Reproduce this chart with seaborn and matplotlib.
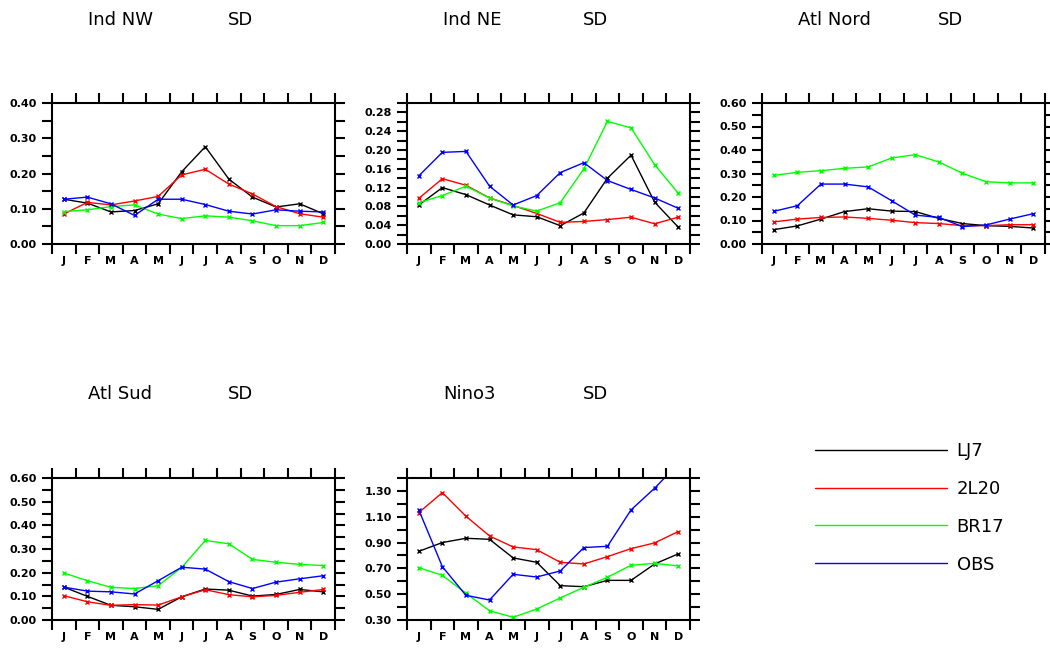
import numpy as np
import pandas as pd
import matplotlib
matplotlib.use('Agg')
import matplotlib.pyplot as plt
import seaborn as sns
from matplotlib.lines import Line2D

months = ['J', 'F', 'M', 'A', 'M', 'J', 'J', 'A', 'S', 'O', 'N', 'D']
series_names = ['LJ7', '2L20', 'BR17', 'OBS']
series_colors = ['#000000', '#ff0000', '#00ff00', '#0000ff']

# Ind NW
nw_lj7 = [0.127, 0.116, 0.091, 0.095, 0.114, 0.205, 0.276, 0.184, 0.133, 0.105, 0.114, 0.086]
nw_2l20 = [0.085, 0.118, 0.111, 0.122, 0.135, 0.196, 0.212, 0.170, 0.142, 0.106, 0.086, 0.076]
nw_br17 = [0.092, 0.097, 0.106, 0.111, 0.085, 0.072, 0.080, 0.076, 0.066, 0.052, 0.052, 0.061]
nw_obs = [0.127, 0.133, 0.114, 0.081, 0.127, 0.127, 0.112, 0.093, 0.085, 0.097, 0.093, 0.091]

# Ind NE
ne_lj7 = [0.083, 0.120, 0.105, 0.083, 0.062, 0.058, 0.039, 0.066, 0.140, 0.189, 0.089, 0.036]
ne_2l20 = [0.097, 0.139, 0.125, 0.098, 0.082, 0.065, 0.046, 0.048, 0.052, 0.057, 0.043, 0.057]
ne_br17 = [0.088, 0.103, 0.123, 0.098, 0.081, 0.070, 0.088, 0.160, 0.261, 0.247, 0.169, 0.108]
ne_obs = [0.145, 0.195, 0.197, 0.123, 0.083, 0.103, 0.152, 0.173, 0.135, 0.116, 0.098, 0.076]

# Atl Nord
an_lj7 = [0.061, 0.077, 0.106, 0.138, 0.150, 0.140, 0.138, 0.109, 0.087, 0.078, 0.075, 0.068]
an_2l20 = [0.094, 0.106, 0.113, 0.115, 0.109, 0.101, 0.091, 0.087, 0.078, 0.078, 0.082, 0.082]
an_br17 = [0.292, 0.305, 0.312, 0.322, 0.328, 0.366, 0.380, 0.349, 0.301, 0.265, 0.260, 0.260]
an_obs = [0.139, 0.163, 0.255, 0.255, 0.243, 0.184, 0.123, 0.113, 0.074, 0.081, 0.106, 0.129]

# Atl Sud
as_lj7 = [0.139, 0.100, 0.062, 0.056, 0.045, 0.098, 0.131, 0.126, 0.101, 0.108, 0.129, 0.119]
as_2l20 = [0.103, 0.077, 0.062, 0.065, 0.063, 0.098, 0.128, 0.107, 0.098, 0.104, 0.117, 0.129]
as_br17 = [0.199, 0.166, 0.138, 0.133, 0.145, 0.222, 0.336, 0.322, 0.256, 0.244, 0.235, 0.230]
as_obs = [0.139, 0.122, 0.119, 0.110, 0.166, 0.223, 0.215, 0.162, 0.133, 0.160, 0.174, 0.187]

# Nino3
n3_lj7 = [0.832, 0.900, 0.933, 0.925, 0.781, 0.747, 0.566, 0.558, 0.607, 0.607, 0.734, 0.812]
n3_2l20 = [1.132, 1.287, 1.104, 0.951, 0.866, 0.845, 0.747, 0.734, 0.791, 0.853, 0.897, 0.985]
n3_br17 = [0.706, 0.646, 0.507, 0.372, 0.321, 0.385, 0.471, 0.553, 0.631, 0.724, 0.739, 0.719]
n3_obs = [1.153, 0.713, 0.491, 0.455, 0.654, 0.633, 0.680, 0.861, 0.871, 1.153, 1.321, 1.51]

panels = [
    ('Ind NW', [nw_lj7, nw_2l20, nw_br17, nw_obs], 0.0, 0.40, 0.10, 0.05),
    ('Ind NE', [ne_lj7, ne_2l20, ne_br17, ne_obs], 0.0, 0.30, 0.04, 0.02),
    ('Atl Nord', [an_lj7, an_2l20, an_br17, an_obs], 0.0, 0.60, 0.10, 0.05),
    ('Atl Sud', [as_lj7, as_2l20, as_br17, as_obs], 0.0, 0.60, 0.10, 0.05),
    ('Nino3', [n3_lj7, n3_2l20, n3_br17, n3_obs], 0.30, 1.40, 0.20, 0.10),
]

W, H = 1050, 649
# panel boxes in pixels: left, top, width, height
boxes = [(52, 103, 283, 141), (407, 103, 283, 141), (762, 103, 283, 141),
         (52, 478, 283, 142), (407, 478, 283, 142)]

sns.set_theme(style='ticks')
plt.rcParams['font.family'] = ['DejaVu Sans']
for key in ['text.color', 'axes.edgecolor', 'xtick.color', 'ytick.color',
            'axes.labelcolor']:
    plt.rcParams[key] = 'black'

fig = plt.figure(figsize=(W / 100, H / 100), dpi=100)


def draw_panel(ax, title, values, ymin, ymax, major, minor):
    for name, color, vals in zip(series_names, series_colors, values):
        df = pd.DataFrame({'month': np.arange(12), 'sd': vals})
        sns.lineplot(data=df, x='month', y='sd', color=color, marker='x',
                     markersize=3.2, markeredgewidth=1, markeredgecolor=color,
                     linewidth=1, ax=ax, label=name, legend=False)
    ax.set_xlim(-0.5, 11.5)
    ax.set_ylim(ymin, ymax)
    ax.set_xticks(range(12))
    ax.set_xticklabels(months, fontsize=8, fontweight='bold')
    ax.set_xticks(np.arange(-0.5, 12, 1), minor=True)
    ax.tick_params(axis='x', which='major', length=0, pad=9)
    ax.tick_params(axis='x', which='minor', length=7, width=1.5, direction='out',
                   top=True, bottom=True)
    ax.set_yticks(np.arange(ymin, ymax + 1e-6, major))
    ax.set_yticks(np.arange(ymin, ymax + 1e-6, minor), minor=True)
    ax.set_yticklabels(['%.2f' % v for v in np.arange(ymin, ymax + 1e-6, major)],
                       fontsize=8, fontweight='bold')
    ax.tick_params(axis='y', which='both', direction='out', length=7, width=1.5,
                   left=True, right=True, pad=4)
    for s in ax.spines.values():
        s.set_visible(True)
        s.set_linewidth(1.5)
    ax.set_xlabel('')
    ax.set_ylabel('')
    ax.text(36 / 283, 1 + 83 / 141, title, transform=ax.transAxes, fontsize=13,
            ha='left', va='center')
    ax.text(176 / 283, 1 + 83 / 141, 'SD', transform=ax.transAxes, fontsize=13,
            ha='left', va='center')


for (title, values, ymin, ymax, major, minor), (l, t, w, h) in zip(panels, boxes):
    ax = fig.add_axes([l / W, 1 - (t + h) / H, w / W, h / H])
    draw_panel(ax, title, values, ymin, ymax, major, minor)

handles = [Line2D([], [], color=c, linewidth=1) for c in series_colors]
fig.legend(handles, series_names, loc='upper left',
           bbox_to_anchor=(815 / W, 1 - 442 / H), frameon=False, fontsize=13,
           handlelength=7.3, handletextpad=0.55, labelspacing=1.1,
           borderpad=0, borderaxespad=0)

fig.savefig('out.png', dpi=100)
